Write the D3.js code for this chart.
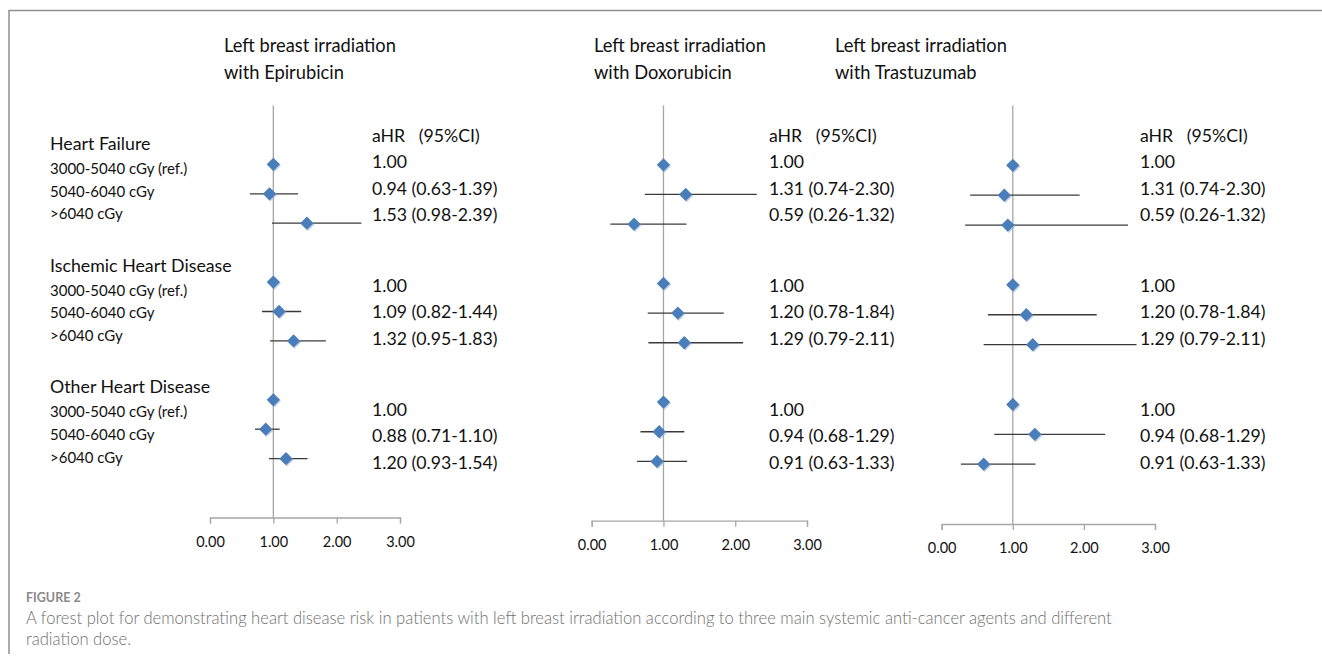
<!DOCTYPE html>
<html>
<head>
<meta charset="utf-8">
<script src="https://cdn.jsdelivr.net/npm/d3@7"></script>
<style>
  html, body { margin: 0; padding: 0; background: #fff; }
  svg { display: block; }
</style>
</head>
<body>
<svg id="chart" width="1322" height="664"></svg>
<script>
// ---------- DATA ----------
const panelTitles = [
  ["Left breast irradiation", "with Epirubicin"],
  ["Left breast irradiation", "with Doxorubicin"],
  ["Left breast irradiation", "with Trastuzumab"]
];
const groups = ["Heart Failure", "Ischemic Heart Disease", "Other Heart Disease"];
const doseLevels = ["3000-5040 cGy (ref.)", "5040-6040 cGy", ">6040 cGy"];
const xTicks = [0, 1, 2, 3];
const xTickLabels = ["0.00", "1.00", "2.00", "3.00"];
const headerLabel = "aHR   (95%CI)";

// plotted points per panel: [group][dose] -> estimate, lower, upper
const epirubicinHR    = [[1.00, 0.94, 1.53], [1.00, 1.09, 1.32], [1.00, 0.88, 1.20]];
const epirubicinLow   = [[null, 0.63, 0.98], [null, 0.82, 0.95], [null, 0.71, 0.93]];
const epirubicinHigh  = [[null, 1.39, 2.39], [null, 1.44, 1.83], [null, 1.10, 1.54]];

const doxorubicinHR   = [[1.00, 1.31, 0.59], [1.00, 1.20, 1.29], [1.00, 0.94, 0.91]];
const doxorubicinLow  = [[null, 0.74, 0.26], [null, 0.78, 0.79], [null, 0.68, 0.63]];
const doxorubicinHigh = [[null, 2.30, 1.32], [null, 1.84, 2.11], [null, 1.29, 1.33]];

const trastuzumabHR   = [[1.00, 0.88, 0.93], [1.00, 1.19, 1.28], [1.00, 1.31, 0.59]];
const trastuzumabLow  = [[null, 0.40, 0.33], [null, 0.65, 0.59], [null, 0.74, 0.27]];
const trastuzumabHigh = [[null, 1.94, 2.62], [null, 2.18, 2.74], [null, 2.30, 1.32]];

// text labels per panel
const epirubicinText  = [["1.00", "0.94 (0.63-1.39)", "1.53 (0.98-2.39)"],
                         ["1.00", "1.09 (0.82-1.44)", "1.32 (0.95-1.83)"],
                         ["1.00", "0.88 (0.71-1.10)", "1.20 (0.93-1.54)"]];
const doxorubicinText = [["1.00", "1.31 (0.74-2.30)", "0.59 (0.26-1.32)"],
                         ["1.00", "1.20 (0.78-1.84)", "1.29 (0.79-2.11)"],
                         ["1.00", "0.94 (0.68-1.29)", "0.91 (0.63-1.33)"]];
const trastuzumabText = [["1.00", "1.31 (0.74-2.30)", "0.59 (0.26-1.32)"],
                         ["1.00", "1.20 (0.78-1.84)", "1.29 (0.79-2.11)"],
                         ["1.00", "0.94 (0.68-1.29)", "0.91 (0.63-1.33)"]];

const captionHead = "FIGURE 2";
const captionLines = [
  "A forest plot for demonstrating heart disease risk in patients with left breast irradiation according to three main systemic anti-cancer agents and different",
  "radiation dose."
];

// ---------- LAYOUT ----------
const FONT = "Lato, 'Open Sans', sans-serif";
const panels = [
  { title: panelTitles[0], hr: epirubicinHR, lo: epirubicinLow, hi: epirubicinHigh, txt: epirubicinText,
    x0: 210, x3: 400, axisY: 517.5, titleX: 224, textX: 372 },
  { title: panelTitles[1], hr: doxorubicinHR, lo: doxorubicinLow, hi: doxorubicinHigh, txt: doxorubicinText,
    x0: 591.7, x3: 807, axisY: 520.7, titleX: 594, textX: 769 },
  { title: panelTitles[2], hr: trastuzumabHR, lo: trastuzumabLow, hi: trastuzumabHigh, txt: trastuzumabText,
    x0: 941.7, x3: 1155, axisY: 524, titleX: 835, textX: 1140 }
];

const svg = d3.select("#chart");

// frame (top and left borders)
svg.append("line").attr("x1", 9).attr("x2", 1322).attr("y1", 10.5).attr("y2", 10.5)
  .attr("stroke", "#8f8f8f").attr("stroke-width", 1.5);
svg.append("line").attr("x1", 9).attr("x2", 9).attr("y1", 10).attr("y2", 654)
  .attr("stroke", "#8f8f8f").attr("stroke-width", 1.5);

// row labels on the left
const labelG = svg.append("g").attr("font-family", FONT).attr("fill", "#111");
groups.forEach((g, gi) => {
  const base = 150 + gi * 121.7;
  labelG.append("text").attr("x", 50).attr("y", base).attr("font-size", 17.8).text(g);
  doseLevels.forEach((d, di) => {
    labelG.append("text").attr("x", 50).attr("y", base + 24 + di * 22.6)
      .attr("font-size", 15).text(d);
  });
});

// diamond path
const diamond = d3.symbol().type(d3.symbolSquare).size(88)();

panels.forEach(p => {
  const x = d3.scaleLinear().domain([0, 3]).range([p.x0, p.x3]);
  // rows: index 0..10 with gaps between groups, domain -2..12
  const y = d3.scaleLinear().domain([-2, 12]).range([105.5, p.axisY]);
  const g = svg.append("g");

  // title
  p.title.forEach((t, i) => {
    g.append("text").attr("x", p.titleX).attr("y", 52 + i * 26.5)
      .attr("font-family", FONT).attr("font-size", 18.3).attr("fill", "#111").text(t);
  });

  // x axis (ticks pointing down)
  const axis = d3.axisBottom(x).tickValues(xTicks).tickFormat((d, i) => xTickLabels[i])
    .tickSize(6).tickSizeOuter(6);
  const ax = g.append("g").attr("transform", `translate(0,${p.axisY})`).call(axis);
  ax.select(".domain").attr("stroke", "#a6a6a6").attr("stroke-width", 1.3);
  ax.selectAll(".tick line").attr("stroke", "#a6a6a6").attr("stroke-width", 1.3);
  ax.selectAll(".tick text").attr("font-family", FONT).attr("font-size", 14.5)
    .attr("fill", "#111").attr("dy", 0).attr("y", 29);

  // vertical reference line at 1
  g.append("line").attr("x1", x(1)).attr("x2", x(1)).attr("y1", y(-2)).attr("y2", p.axisY)
    .attr("stroke", "#a6a6a6").attr("stroke-width", 1.3);

  // points
  const pts = [];
  p.hr.forEach((row, gi) => row.forEach((v, di) => {
    pts.push({ idx: gi * 4 + di, hr: v, lo: p.lo[gi][di], hi: p.hi[gi][di] });
  }));

  g.selectAll("line.ci").data(pts.filter(d => d.lo != null)).enter().append("line")
    .attr("class", "ci")
    .attr("x1", d => x(d.lo)).attr("x2", d => x(d.hi))
    .attr("y1", d => y(d.idx)).attr("y2", d => y(d.idx))
    .attr("stroke", "#3a3a3a").attr("stroke-width", 1.3);

  g.selectAll("path.shadow").data(pts).enter().append("path")
    .attr("d", diamond)
    .attr("transform", d => `translate(${x(d.hr) + 1},${y(d.idx) + 1.2}) rotate(45)`)
    .attr("fill", "#9fb3cc").attr("opacity", 0.6);
  g.selectAll("path.pt").data(pts).enter().append("path")
    .attr("d", diamond)
    .attr("transform", d => `translate(${x(d.hr)},${y(d.idx)}) rotate(45)`)
    .attr("fill", "#4a7ebb");

  // text column
  const tg = g.append("g").attr("font-family", FONT).attr("fill", "#111").attr("font-size", 17.7);
  tg.append("text").attr("x", p.textX).attr("y", 141.7)
    .style("white-space", "pre").text(headerLabel);
  p.txt.forEach((row, gi) => row.forEach((t, di) => {
    tg.append("text").attr("x", p.textX).attr("y", 168.3 + gi * 123.8 + di * 26.3).text(t);
  }));
});

// caption
svg.append("text").attr("x", 26).attr("y", 602).attr("font-family", FONT)
  .attr("font-size", 12.5).attr("font-weight", 700).attr("fill", "#8a8a8a").text(captionHead);
captionLines.forEach((t, i) => {
  svg.append("text").attr("x", 26).attr("y", 624 + i * 21).attr("font-family", FONT)
    .attr("font-size", 16.6).attr("font-weight", 300).attr("fill", "#6f6f6f").text(t);
});
</script>
</body>
</html>
